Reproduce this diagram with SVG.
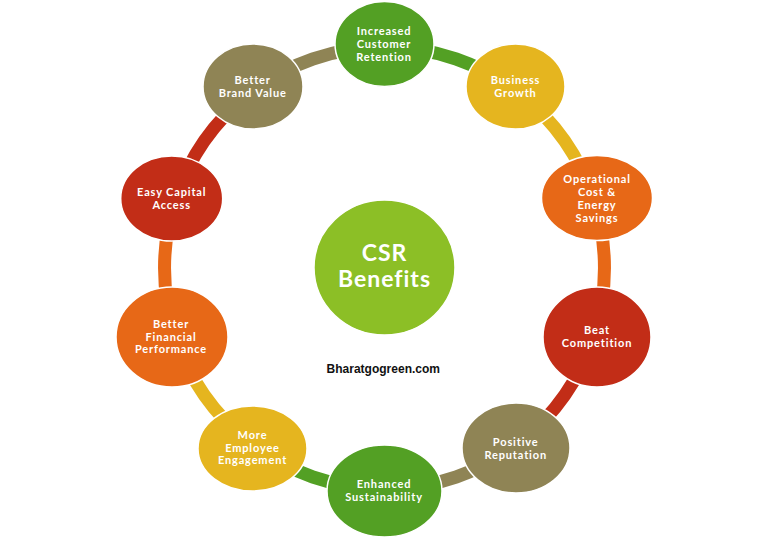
<svg xmlns="http://www.w3.org/2000/svg" width="768" height="539" viewBox="0 0 768 539">
<style>
.c{fill:none;stroke-width:13}
.n{stroke:#fff;stroke-width:1.5}
.t{font-family:"Lato","Noto Sans",sans-serif;font-size:11px;font-weight:700;letter-spacing:.85px;font-variant-ligatures:none;fill:#fff;text-anchor:middle}
.h{font-family:"Lato","Noto Sans",sans-serif;font-size:23px;font-weight:700;letter-spacing:1px;font-variant-ligatures:none;fill:#fff;text-anchor:middle}
.green{fill:#53a024}.yellow{fill:#e5b51f}.orange{fill:#e76817}.red{fill:#c22d17}.taupe{fill:#8f8455}
</style>
<rect width="768" height="539" fill="#fff"/>
<g id="connectors">
<path class="c" stroke="#53a024" d="M384.5 47A220 221 0 0 1 520 93.800"/>
<path class="c" stroke="#e5b51f" d="M520 93.800A220 221 0 0 1 593.700 199.700"/>
<path class="c" stroke="#e76817" d="M593.700 199.700A220 221 0 0 1 593.700 336.300"/>
<path class="c" stroke="#c22d17" d="M593.700 336.300A220 221 0 0 1 520 442.200"/>
<path class="c" stroke="#8f8455" d="M520 442.200A220 221 0 0 1 384.500 489"/>
<path class="c" stroke="#53a024" d="M384.500 489A220 221 0 0 1 249 442.200"/>
<path class="c" stroke="#e5b51f" d="M249 442.200A220 221 0 0 1 175.300 336.300"/>
<path class="c" stroke="#e76817" d="M175.300 336.300A220 221 0 0 1 175.300 199.700"/>
<path class="c" stroke="#c22d17" d="M175.300 199.700A220 221 0 0 1 249 93.800"/>
<path class="c" stroke="#8f8455" d="M249 93.800A220 221 0 0 1 384.500 47"/>
</g>
<g id="center"><ellipse class="n" cx="384.500" cy="267.500" rx="70.500" ry="67.500" fill="#8cbf26"/>
<text class="h"><tspan x="384.500" y="260.700">CSR</tspan><tspan x="384.500" y="287">Benefits</tspan></text></g>
<g id="increased"><ellipse class="n green" cx="384.500" cy="44" rx="49.500" ry="42.500"/><text class="t"><tspan x="384" y="35">Increased</tspan><tspan x="384" y="48">Customer</tspan><tspan x="384" y="60.500">Retention</tspan></text></g>
<g id="business"><ellipse class="n yellow" cx="515.500" cy="86.500" rx="49.500" ry="42.500"/><text class="t"><tspan x="515.500" y="84">Business</tspan><tspan x="515.500" y="96.500">Growth</tspan></text></g>
<g id="operational"><ellipse class="n orange" cx="597" cy="198" rx="55.500" ry="42.500"/><text class="t"><tspan x="597" y="183">Operational</tspan><tspan x="597" y="196">Cost &amp;</tspan><tspan x="597" y="209">Energy</tspan><tspan x="597" y="221.500">Savings</tspan></text></g>
<g id="beat"><ellipse class="n red" cx="597" cy="337" rx="54" ry="50"/><text class="t"><tspan x="597" y="334">Beat</tspan><tspan x="597" y="346.500">Competition</tspan></text></g>
<g id="positive"><ellipse class="n taupe" cx="516" cy="448" rx="54" ry="45"/><text class="t"><tspan x="515.700" y="446">Positive</tspan><tspan x="515.700" y="458.500">Reputation</tspan></text></g>
<g id="enhanced"><ellipse class="n green" cx="384.500" cy="491" rx="57.500" ry="46"/><text class="t"><tspan x="384" y="488">Enhanced</tspan><tspan x="384" y="501">Sustainability</tspan></text></g>
<g id="employee"><ellipse class="n yellow" cx="252.500" cy="448.500" rx="54.500" ry="42.500"/><text class="t"><tspan x="252.500" y="439">More</tspan><tspan x="252.500" y="451.500">Employee</tspan><tspan x="252.500" y="464">Engagement</tspan></text></g>
<g id="financial"><ellipse class="n orange" cx="172" cy="337" rx="56" ry="50"/><text class="t"><tspan x="171" y="328">Better</tspan><tspan x="171" y="340.500">Financial</tspan><tspan x="171" y="353">Performance</tspan></text></g>
<g id="capital"><ellipse class="n red" cx="171.700" cy="198.500" rx="51" ry="42.500"/><text class="t"><tspan x="171.700" y="196">Easy Capital</tspan><tspan x="171.700" y="208.500">Access</tspan></text></g>
<g id="brand"><ellipse class="n taupe" cx="253" cy="86.500" rx="50" ry="42.500"/><text class="t"><tspan x="252.700" y="84">Better</tspan><tspan x="252.700" y="96.500">Brand Value</tspan></text></g>
<text id="credit" x="383.300" y="373" text-anchor="middle" font-family="Liberation Sans,sans-serif" font-size="12" font-weight="700" fill="#111">Bharatgogreen.com</text>
</svg>
